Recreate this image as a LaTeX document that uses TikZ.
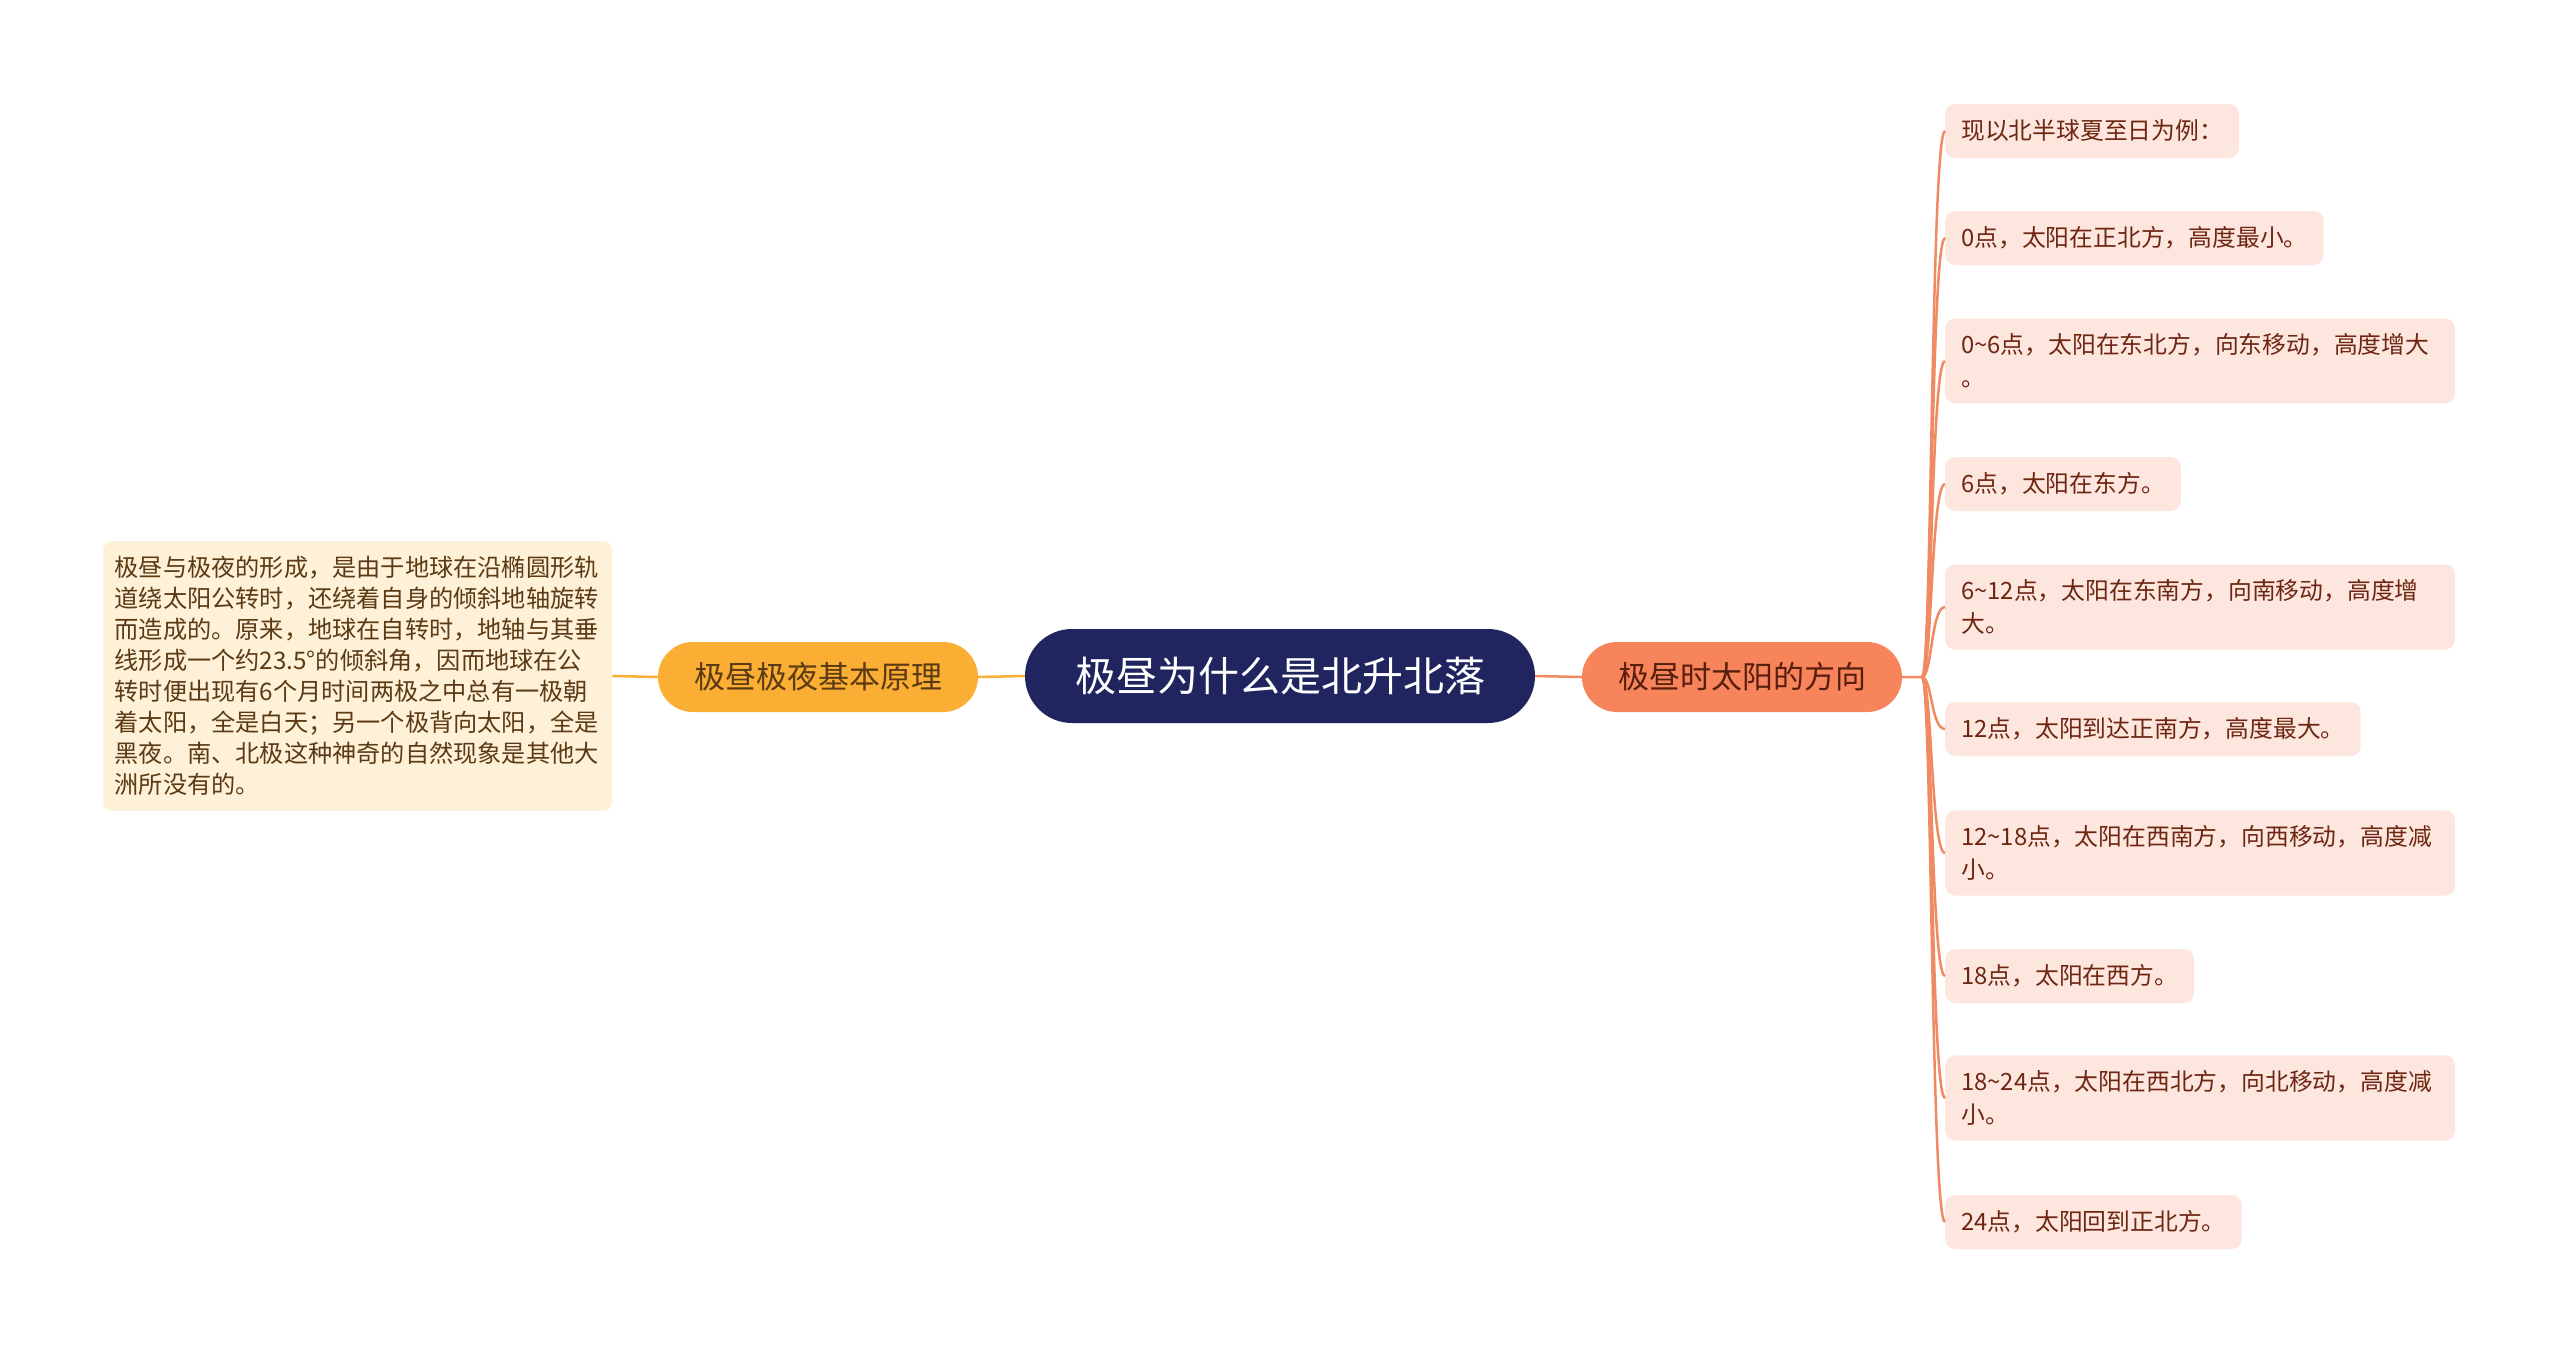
\documentclass[tikz,border=0pt]{standalone}
\usepackage{fontspec}
\setmainfont{Noto Sans CJK SC}
\definecolor{rootblue}{HTML}{20255F}
\definecolor{gold}{HTML}{FAAE34}
\definecolor{coral}{HTML}{F7845A}
\definecolor{cream}{HTML}{FEF1D8}
\definecolor{blush}{HTML}{FDE6DD}
\definecolor{bark}{HTML}{5B3A14}
\definecolor{rust}{HTML}{6E2612}
\definecolor{coralline}{HTML}{F08A62}

\begin{document}
\begin{tikzpicture}[x=1pt,y=-1pt,
  root/.style={fill=rootblue,text=white,rounded corners=47,minimum width=510,minimum height=94,font=\fontsize{41}{45}\selectfont},
  branch/.style={rounded corners=35,minimum width=320,minimum height=70,font=\fontsize{31}{35}\selectfont},
  leaf/.style={fill=blush,text=rust,rounded corners=10,anchor=west,align=left,inner xsep=16,inner ysep=15,minimum height=54,font=\fontsize{23.8}{33}\selectfont},
  wide/.style={text width=478},
  link/.style={line width=2.5}]
  \fill[white] (0,0) rectangle (2560,1353);
  \useasboundingbox (0,0) rectangle (2560,1353);

  % centre and branches
  \node[root] (root) at (1280,676) {极昼为什么是北升北落};
  \node[branch,fill=gold,text=bark] (basic) at (818,677) {极昼极夜基本原理};
  \node[branch,fill=coral,text=rust!80!black] (sun) at (1742,677) {极昼时太阳的方向};

  % left note
  \node[fill=cream,text=bark,rounded corners=10,anchor=west,text width=486,align=left,
        inner xsep=11.5,inner ysep=15.5,font=\fontsize{24.2}{31}\selectfont] (note) at (103,676)
    {极昼与极夜的形成，是由于地球在沿椭圆形轨\\
     道绕太阳公转时，还绕着自身的倾斜地轴旋转\\
     而造成的。原来，地球在自转时，地轴与其垂\\
     线形成一个约23.5°的倾斜角，因而地球在公\\
     转时便出现有6个月时间两极之中总有一极朝\\
     着太阳，全是白天；另一个极背向太阳，全是\\
     黑夜。南、北极这种神奇的自然现象是其他大\\
     洲所没有的。};

  % right leaves
  \node[leaf] (t1) at (1945,131) {现以北半球夏至日为例：};
  \node[leaf] (t2) at (1945,238) {0点，太阳在正北方，高度最小。};
  \node[leaf,wide] (t3) at (1945,361) {0\textasciitilde6点，太阳在东北方，向东移动，高度增大\\。};
  \node[leaf] (t4) at (1945,484) {6点，太阳在东方。};
  \node[leaf,wide] (t5) at (1945,607) {6\textasciitilde12点，太阳在东南方，向南移动，高度增\\大。};
  \node[leaf] (t6) at (1945,729) {12点，太阳到达正南方，高度最大。};
  \node[leaf,wide] (t7) at (1945,853) {12\textasciitilde18点，太阳在西南方，向西移动，高度减\\小。};
  \node[leaf] (t8) at (1945,976) {18点，太阳在西方。};
  \node[leaf,wide] (t9) at (1945,1098) {18\textasciitilde24点，太阳在西北方，向北移动，高度减\\小。};
  \node[leaf] (t10) at (1945,1222) {24点，太阳回到正北方。};

  % connectors
  \coordinate (hub) at (1922,677);
  \draw[link,gold] (root.west) -- (basic.east) (basic.west) -- (note.east);
  \draw[link,coralline] (root.east) -- (sun.west) (sun.east) -- (hub);
  \foreach \i in {1,...,10}
    \draw[link,coralline] (hub) .. controls +(10,0) and +(-14,0) .. (t\i.west);
\end{tikzpicture}
\end{document}
